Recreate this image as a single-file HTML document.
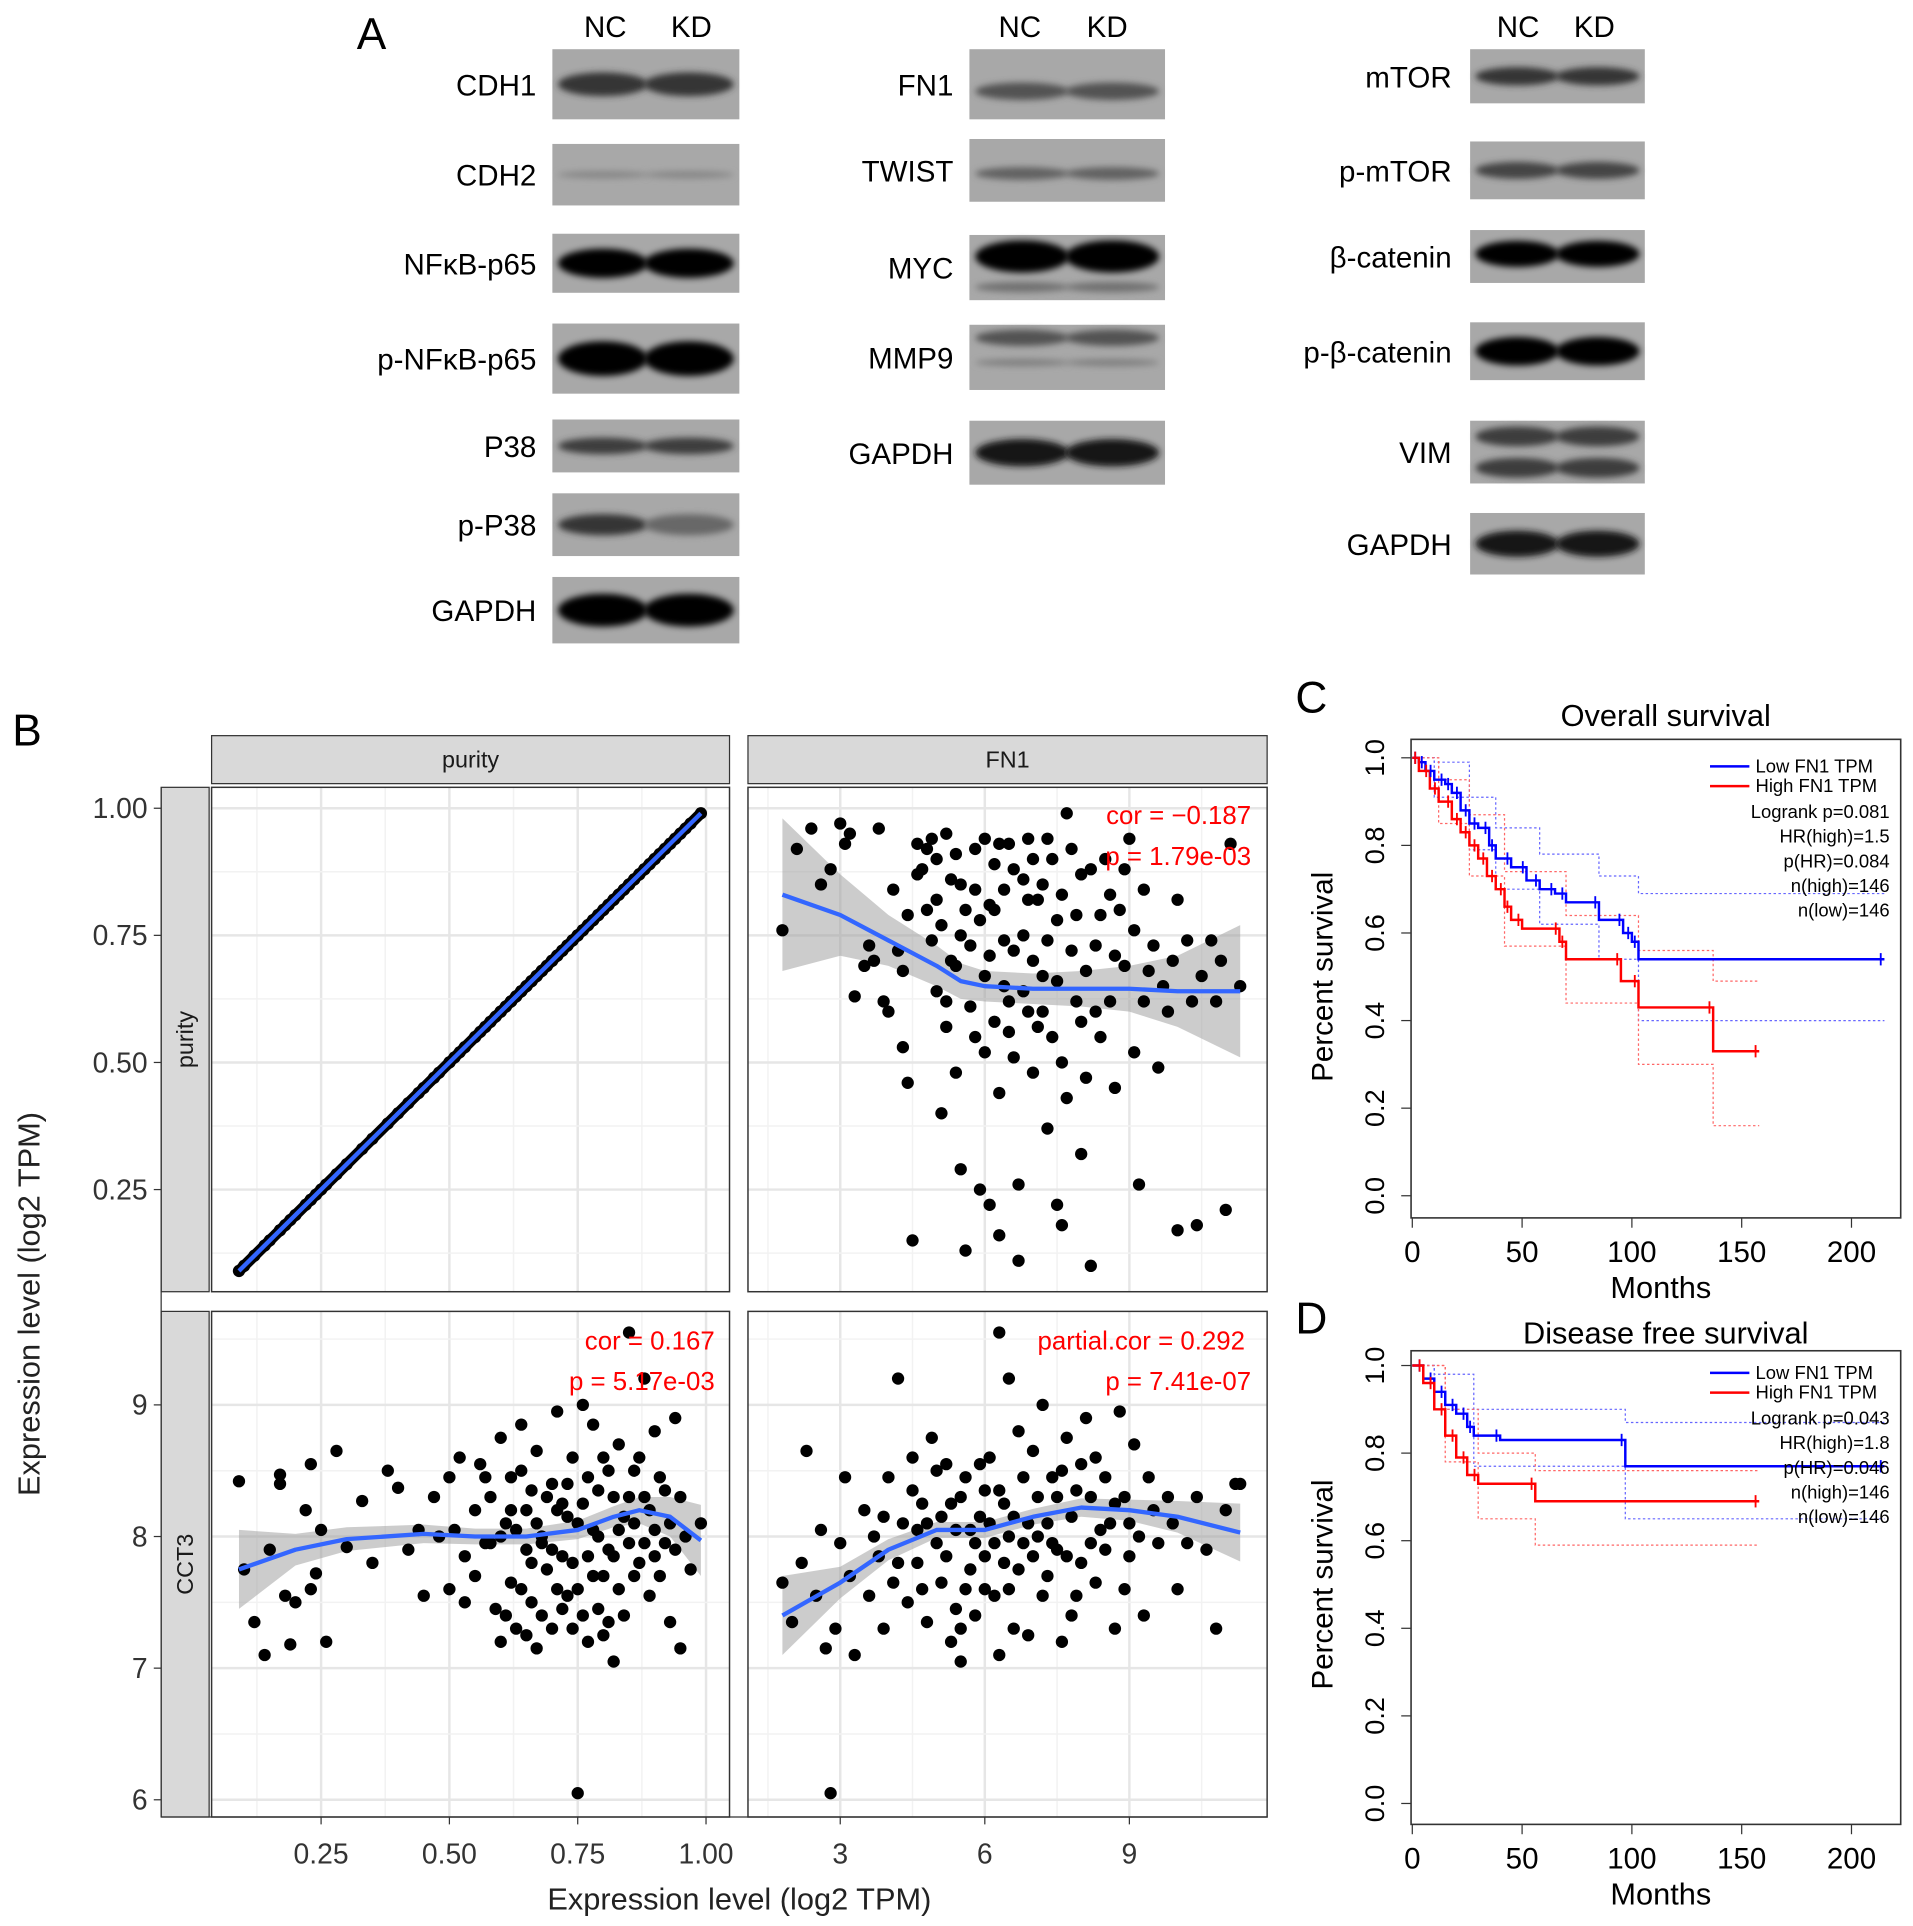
<!DOCTYPE html>
<html><head><meta charset="utf-8"><style>
html,body{margin:0;padding:0;background:#fff;}
svg{display:block;font-family:"Liberation Sans",Arial,sans-serif;}
</style></head><body>
<svg id="fig" width="1913" height="1926" viewBox="0 0 1555 1565.6" preserveAspectRatio="none" xmlns="http://www.w3.org/2000/svg">
<defs>
<filter id="blur" x="-20%" y="-100%" width="140%" height="300%"><feGaussianBlur stdDeviation="2.5"/></filter>
</defs>
<g id="panelA"></g>
<g id="panelB"></g>
<g id="panelC"></g>
<g id="panelD"></g>
</svg>
<script>
// ---------- Panel B data ----------
const fn1Purity = [[1.8,.76],[2.1,.92],[2.4,.96],[2.6,.85],[2.8,.88],[3.0,.97],[3.1,.93],[3.2,.95],[3.5,.69],[3.6,.73],[3.8,.96],[3.9,.62],[4.0,.60],[4.1,.84],[4.2,.72],[4.3,.53],[4.4,.46],[4.5,.15],[4.6,.93],[4.7,.88],[4.8,.92],[4.9,.94],[5.0,.82],[5.0,.64],[5.1,.40],[5.2,.57],[5.2,.95],[5.3,.70],[5.4,.48],[5.5,.29],[5.5,.85],[5.6,.13],[5.7,.61],[5.8,.92],[5.9,.25],[5.9,.78],[6.0,.67],[6.0,.52],[6.1,.22],[6.2,.58],[6.2,.89],[6.3,.44],[6.3,.16],[6.4,.84],[6.5,.93],[6.5,.62],[6.6,.51],[6.7,.26],[6.7,.11],[6.8,.75],[6.9,.60],[7.0,.90],[7.0,.48],[7.1,.82],[7.2,.67],[7.3,.37],[7.3,.94],[7.4,.55],[7.5,.22],[7.5,.78],[7.6,.18],[7.7,.43],[7.7,.99],[7.8,.72],[7.9,.62],[8.0,.32],[8.0,.87],[8.1,.47],[8.2,.10],[8.3,.73],[8.4,.55],[8.5,.90],[8.6,.62],[8.7,.45],[8.8,.80],[8.9,.69],[9.0,.94],[9.1,.52],[9.2,.26],[9.3,.62],[9.5,.73],[9.6,.49],[9.8,.60],[10.0,.82],[10.0,.17],[10.2,.74],[10.4,.18],[10.5,.67],[10.7,.74],[11.0,.21],[11.1,.93],[11.3,.65],[4.4,.79],[5.4,.69],[6.8,.86],[3.3,.63],[5.8,.55],[6.4,.74],[7.1,.57],[8.6,.83],[4.9,.74],[9.4,.68],[10.8,.62],
 [4.6,.87],[4.8,.80],[5.0,.90],[5.1,.77],[5.3,.86],[5.4,.91],[5.6,.80],[5.7,.73],[5.8,.84],[6.0,.94],[6.1,.71],[6.1,.81],[6.3,.93],[6.4,.65],[6.6,.88],[6.6,.72],[6.8,.64],[6.9,.94],[7.0,.70],[7.2,.85],[7.2,.60],[7.4,.90],[7.5,.66],[7.6,.83],[7.8,.92],[7.9,.79],[8.1,.68],[8.2,.88],[8.3,.60],[8.4,.79],[8.7,.71],[8.9,.88],[9.1,.76],[9.3,.84],[9.7,.65],[10.3,.62],[5.2,.62],[5.5,.75],[6.2,.80],[6.9,.82],[7.3,.74],[8.0,.58],[4.3,.68],[3.7,.70],[9.9,.70],[10.9,.70],[6.5,.56],[7.6,.50]];
const purityCct3 = [[.09,8.42],[.10,7.75],[.12,7.35],[.14,7.10],[.15,7.90],[.17,8.47],[.17,8.40],[.18,7.55],[.19,7.18],[.20,7.50],[.22,8.20],[.23,8.55],[.23,7.60],[.24,7.72],[.25,8.05],[.26,7.20],[.28,8.65],[.30,7.92],[.33,8.27],[.35,7.80],[.38,8.50],[.40,8.37],[.42,7.90],[.44,8.05],[.45,7.55],[.47,8.30],[.48,8.00],[.50,8.45],[.50,7.60],[.52,8.60],[.53,7.85],[.55,7.70],[.56,8.55],[.57,7.95],[.58,8.30],[.59,7.45],[.60,8.75],[.60,7.20],[.61,8.10],[.62,7.65],[.62,8.45],[.63,7.30],[.64,8.85],[.65,7.90],[.65,8.20],[.66,7.50],[.67,8.65],[.67,7.15],[.68,8.00],[.69,7.75],[.70,8.40],[.70,7.30],[.71,8.95],[.72,7.85],[.72,8.25],[.73,7.55],[.74,8.60],[.75,6.05],[.75,8.10],[.76,9.00],[.76,7.40],[.77,8.45],[.78,7.70],[.78,8.85],[.79,8.00],[.80,7.25],[.80,8.60],[.81,7.90],[.82,7.05],[.82,8.30],[.83,8.70],[.83,7.60],[.84,8.15],[.85,9.55],[.85,7.95],[.86,8.50],[.87,7.80],[.88,9.20],[.88,8.30],[.89,7.55],[.90,8.80],[.90,8.05],[.91,7.70],[.92,8.35],[.93,7.35],[.94,8.90],[.94,7.90],[.95,7.15],[.96,8.00],[.97,7.75],[.99,8.10],[.63,8.05],[.68,7.95],[.73,8.15],[.58,7.95],[.66,8.35],[.79,7.45],[.86,8.10],[.71,7.60],
 [.60,8.00],[.61,7.40],[.62,8.20],[.64,7.60],[.64,8.50],[.66,7.80],[.67,8.10],[.68,7.40],[.69,8.30],[.70,7.90],[.71,8.20],[.72,7.45],[.73,8.40],[.74,7.80],[.75,7.60],[.76,8.25],[.77,7.85],[.78,8.05],[.79,8.35],[.80,7.70],[.81,8.50],[.82,7.85],[.83,8.05],[.84,7.40],[.85,8.30],[.86,7.70],[.87,8.60],[.88,7.95],[.89,8.20],[.90,7.85],[.91,8.45],[.92,7.95],[.93,8.10],[.95,8.30],[.57,8.45],[.55,8.20],[.53,7.50],[.51,8.05],[.74,7.30],[.77,7.20],[.65,7.25],[.81,7.35]];
const fn1Cct3 = [[1.8,7.65],[2.0,7.35],[2.2,7.80],[2.3,8.65],[2.5,7.55],[2.6,8.05],[2.7,7.15],[2.8,6.05],[2.9,7.30],[3.0,7.95],[3.1,8.45],[3.2,7.70],[3.3,7.10],[3.5,8.20],[3.6,7.55],[3.7,8.00],[3.8,7.85],[3.9,7.30],[4.0,8.45],[4.1,7.65],[4.2,9.20],[4.3,8.10],[4.4,7.50],[4.5,8.60],[4.6,7.80],[4.7,8.25],[4.8,7.35],[4.9,8.75],[5.0,7.95],[5.1,7.65],[5.2,8.55],[5.3,7.20],[5.4,8.05],[5.5,7.05],[5.5,8.30],[5.6,7.60],[5.7,8.05],[5.8,7.40],[5.9,8.55],[6.0,7.85],[6.1,8.10],[6.2,7.55],[6.3,9.55],[6.3,8.35],[6.4,7.80],[6.5,9.20],[6.5,8.00],[6.6,7.30],[6.7,8.80],[6.8,7.95],[6.9,7.25],[7.0,8.65],[7.1,8.00],[7.2,9.00],[7.3,7.70],[7.4,8.45],[7.5,7.90],[7.6,7.20],[7.7,8.75],[7.8,8.15],[7.9,7.55],[8.0,8.55],[8.1,8.90],[8.2,7.95],[8.3,7.65],[8.5,8.45],[8.6,8.10],[8.7,7.30],[8.8,8.95],[8.9,8.30],[9.0,7.85],[9.1,8.70],[9.2,8.00],[9.3,7.40],[9.5,8.20],[9.6,7.95],[9.8,8.30],[10.0,7.60],[10.2,7.95],[10.4,8.30],[10.6,7.90],[10.8,7.30],[11.0,8.20],[11.2,8.40],[11.3,8.40],[5.1,8.15],[6.0,8.35],[6.9,8.10],[7.5,8.30],[8.4,8.05],[4.6,8.05],[5.8,7.95],
 [4.5,8.35],[4.7,7.60],[4.8,8.10],[5.0,8.50],[5.2,7.85],[5.3,8.25],[5.4,7.45],[5.6,8.45],[5.7,7.75],[5.9,8.15],[6.0,7.60],[6.1,8.60],[6.2,7.95],[6.4,8.25],[6.5,7.60],[6.6,8.15],[6.7,7.75],[6.8,8.45],[7.0,7.85],[7.1,8.30],[7.2,7.55],[7.3,8.10],[7.4,7.95],[7.6,8.50],[7.7,7.85],[7.9,8.35],[8.0,7.80],[8.2,8.30],[8.3,8.60],[8.5,7.90],[8.7,8.25],[9.0,8.10],[9.4,8.45],[9.9,8.10],[4.2,7.80],[3.9,8.15],[6.3,7.10],[7.8,7.40],[5.5,7.30],[8.9,7.60]];
// loess fits [x, fit, se-halfwidth]
const loessTR = [[1.8,.83,.15],[3,.79,.08],[4,.74,.05],[5,.69,.04],[5.5,.66,.035],[6,.65,.03],[7,.645,.03],[8,.645,.035],[9,.645,.045],[10,.64,.07],[11.3,.64,.13]];
const loessBL = [[.09,7.75,.3],[.2,7.9,.12],[.3,7.98,.09],[.45,8.02,.07],[.55,8.0,.06],[.65,8.0,.06],[.75,8.05,.07],[.82,8.15,.08],[.87,8.2,.1],[.93,8.15,.15],[.99,7.97,.27]];
const loessBR = [[1.8,7.4,.3],[3,7.65,.12],[4,7.9,.08],[5,8.05,.06],[6,8.05,.06],[7,8.15,.06],[8,8.22,.07],[9,8.2,.08],[10,8.15,.12],[11.3,8.03,.22]];
const purityTicks = [0.25,0.50,0.75,1.00];
const purityTickLabels = ["0.25","0.50","0.75","1.00"];
const fn1Ticks = [3,6,9];
const cct3Ticks = [6,7,8,9];
// ---------- Survival data [months, survival] ----------
const osLow = [[0,1],[3,.99],[6,.97],[10,.95],[15,.94],[18,.92],[22,.88],[26,.85],[30,.84],[35,.80],[38,.77],[45,.75],[52,.72],[58,.70],[65,.69],[70,.67],[85,.63],[96,.60],[100,.58],[103,.54],[215,.54]];
const osHigh = [[0,1],[3,.97],[8,.93],[12,.90],[18,.86],[22,.83],[26,.80],[30,.77],[34,.73],[38,.70],[42,.66],[45,.63],[50,.61],[67,.58],[70,.54],[95,.49],[103,.43],[137,.33],[158,.33]];
const dfsLow = [[0,1],[5,.97],[10,.94],[15,.91],[20,.89],[25,.86],[28,.84],[40,.83],[97,.77],[215,.77]];
const dfsHigh = [[0,1],[5,.96],[10,.90],[15,.84],[20,.79],[25,.75],[30,.73],[56,.69],[158,.69]];
const osLowCI = [[0,1,1],[10,.91,.99],[26,.79,.91],[38,.70,.84],[58,.62,.78],[85,.54,.73],[103,.40,.69],[215,.40,.69]];
const osHighCI = [[0,1,1],[12,.85,.95],[26,.73,.87],[42,.57,.74],[70,.44,.64],[103,.30,.56],[137,.16,.49],[158,.16,.49]];
const dfsLowCI = [[0,1,1],[10,.90,.98],[28,.77,.90],[97,.65,.87],[215,.65,.87]];
const dfsHighCI = [[0,1,1],[15,.78,.90],[30,.65,.80],[56,.59,.76],[158,.59,.76]];
const survTicks = [0,0.2,0.4,0.6,0.8,1.0];
const survTickLabels = ["0.0","0.2","0.4","0.6","0.8","1.0"];
const monthTicks = [0,50,100,150,200];

const NS="http://www.w3.org/2000/svg";
function mk(parent,tag,attrs,text){const e=document.createElementNS(NS,tag);for(const k in attrs)e.setAttribute(k,attrs[k]);if(text!==undefined)e.textContent=text;parent.appendChild(e);return e;}

// ---------- Panel A ----------
const A=document.getElementById('panelA');
let t=mk(A,'text',{x:290,y:40,'font-size':36});t.textContent='A';


const blotCols=[
 {x0:449,x1:601,lx:436,nc:492,kd:562,rows:[['CDH1',40,97,[[.5,.75]]],['CDH2',117,167,[[.5,.2]]],['NFκB-p65',190,238,[[.5,1.3]]],['p-NFκB-p65',263,320,[[.5,1.35]]],['P38',341,384,[[.5,.7]]],['p-P38',401,452,[[.5,.75,.55]]],['GAPDH',469,523,[[.5,1.2]]]]},
 {x0:788,x1:947,lx:775,nc:829,kd:900,rows:[['FN1',40,97,[[.6,.55]]],['TWIST',113,164,[[.55,.45]]],['MYC',191,244,[[.33,1.2],[.8,.35]]],['MMP9',264,317,[[.2,.55],[.58,.25]]],['GAPDH',342,394,[[.5,.95]]]]},
 {x0:1195,x1:1337,lx:1180,nc:1234,kd:1296,rows:[['mTOR',40,84,[[.5,.75]]],['p-mTOR',115,162,[[.5,.65]]],['β-catenin',187,230,[[.45,1.2]]],['p-β-catenin',262,309,[[.5,1.2]]],['VIM',342,393,[[.25,.7],[.75,.7]]],['GAPDH',417,467,[[.5,.95]]]]}
];
blotCols.forEach((c,ci)=>{
 let h=mk(A,'text',{x:c.nc,y:30,'font-size':24,'text-anchor':'middle'},'NC');
 
 
 h=mk(A,'text',{x:c.kd,y:30,'font-size':24,'text-anchor':'middle'},'KD');
 
 
 c.rows.forEach(r=>{
  const [name,y0,y1,bands]=r;
  const g=mk(A,'g',{});
  
  
  mk(g,'rect',{x:c.x0,y:y0,width:c.x1-c.x0,height:y1-y0,fill:'#a8a8a8'});
  const w=(c.x1-c.x0);
  bands.forEach(b=>{
   const yy=y0+(y1-y0)*b[0], hh=Math.max(6,(y1-y0)*0.45*Math.min(b[1],1.1));
   [0.27,0.73].forEach((fx,li)=>{
    const k=(li==1&&b[2])?b[2]:1;
    const dark=Math.max(0,Math.round(165-150*b[1]*k));
    mk(g,'ellipse',{cx:c.x0+w*fx,cy:yy,rx:w*0.24,ry:hh/2,fill:`rgb(${dark},${dark},${dark})`,filter:'url(#blur)'});
   });
  });
  const l=mk(A,'text',{x:c.lx,y:(y0+y1)/2+9,'font-size':24,'text-anchor':'end','textLength':name.length>8?undefined:undefined},name);
  
  
 });
});

// ---------- Panel B ----------
const B=document.getElementById('panelB');
t=mk(B,'text',{x:10,y:606,'font-size':36},'B');


const colX=[[172,593],[608,1030]], rowY=[[640,1050],[1066,1477]];
const xPur=v=>261+(v-0.25)*417.2;
const xFn=v=>683+(v-3)*39.17;
const yPur=v=>657+(1-v)*413.3;
const yCct=v=>1249-(v-8)*107;
[['purity',0],['FN1',1]].forEach(([s,i])=>{
 const r=mk(B,'rect',{x:colX[i][0],y:598,width:colX[i][1]-colX[i][0],height:39,fill:'#d9d9d9',stroke:'#333','stroke-width':1});
 
 
 mk(B,'text',{x:(colX[i][0]+colX[i][1])/2,y:624,'font-size':19,'text-anchor':'middle',fill:'#1a1a1a'},s);
});
[['purity',0],['CCT3',1]].forEach(([s,i])=>{
 const r=mk(B,'rect',{x:131,y:rowY[i][0],width:39,height:rowY[i][1]-rowY[i][0],fill:'#d9d9d9',stroke:'#333','stroke-width':1});
 
 
 const cy=(rowY[i][0]+rowY[i][1])/2;
 mk(B,'text',{x:157,y:cy,'font-size':19,'text-anchor':'middle',fill:'#1a1a1a',transform:`rotate(-90 157 ${cy})`},s);
});
function panel(ci,ri,xf,yf,xt,yt,name){
 const g=mk(B,'g',{});
 
 
 const [x0,x1]=colX[ci],[y0,y1]=rowY[ri];
 mk(g,'rect',{x:x0,y:y0,width:x1-x0,height:y1-y0,fill:'#fff'});
 for(let i=0;i<xt.length;i++){
  const X=xf(xt[i]); if(X>x0&&X<x1) mk(g,'line',{x1:X,x2:X,y1:y0,y2:y1,stroke:'#e6e6e6','stroke-width':2});
  if(i>0){const m=(xf(xt[i])+xf(xt[i-1]))/2; mk(g,'line',{x1:m,x2:m,y1:y0,y2:y1,stroke:'#f2f2f2','stroke-width':1.2});}
 }
 const mx0=xf(xt[0])-(xf(xt[1])-xf(xt[0]))/2; if(mx0>x0) mk(g,'line',{x1:mx0,x2:mx0,y1:y0,y2:y1,stroke:'#f2f2f2','stroke-width':1.2});
 const mx1=xf(xt[xt.length-1])+(xf(xt[1])-xf(xt[0]))/2; if(mx1<x1) mk(g,'line',{x1:mx1,x2:mx1,y1:y0,y2:y1,stroke:'#f2f2f2','stroke-width':1.2});
 for(let i=0;i<yt.length;i++){
  const Y=yf(yt[i]); if(Y>y0&&Y<y1) mk(g,'line',{x1:x0,x2:x1,y1:Y,y2:Y,stroke:'#e6e6e6','stroke-width':2});
  if(i>0){const m=(yf(yt[i])+yf(yt[i-1]))/2; mk(g,'line',{x1:x0,x2:x1,y1:m,y2:m,stroke:'#f2f2f2','stroke-width':1.2});}
 }
 const my=yf(yt[yt.length-1])-(yf(yt[0])-yf(yt[1]))/2; if(my>y0) mk(g,'line',{x1:x0,x2:x1,y1:my,y2:my,stroke:'#f2f2f2','stroke-width':1.2});
 const my2=yf(yt[0])+(yf(yt[0])-yf(yt[1]))/2; if(my2<y1) mk(g,'line',{x1:x0,x2:x1,y1:my2,y2:my2,stroke:'#f2f2f2','stroke-width':1.2});
 mk(g,'rect',{x:x0,y:y0,width:x1-x0,height:y1-y0,fill:'none',stroke:'#333','stroke-width':1.2});
 return g;
}
const gTL=panel(0,0,xPur,yPur,purityTicks,[.25,.5,.75,1],'panel-purity-vs-purity');
const gTR=panel(1,0,xFn,yPur,fn1Ticks,[.25,.5,.75,1],'panel-fn1-vs-purity');
const gBL=panel(0,1,xPur,yCct,purityTicks,cct3Ticks,'panel-purity-vs-cct3');
const gBR=panel(1,1,xFn,yCct,fn1Ticks,cct3Ticks,'panel-fn1-vs-cct3');
function band(g,fit,xf,yf,name){
 let d='M';fit.forEach((p,i)=>{d+=(i?'L':'')+xf(p[0])+','+yf(p[1]+p[2]);});
 for(let i=fit.length-1;i>=0;i--){d+='L'+xf(fit[i][0])+','+yf(fit[i][1]-fit[i][2]);}
 const b=mk(g,'path',{d:d+'Z',fill:'#999','fill-opacity':0.5});
 
 
}
function curve(g,fit,xf,yf,name){
 const d='M'+fit.map(p=>xf(p[0])+','+yf(p[1])).join('L');
 const c=mk(g,'path',{d:d,fill:'none',stroke:'#3366ff','stroke-width':3.5,'stroke-linejoin':'round'});
 
 
}
function pts(g,data,xf,yf,name){
 data.forEach(p=>{
  const c=mk(g,'circle',{cx:xf(p[0]),cy:yf(p[1]),r:5,fill:'#000'});
  
  
 });
}
purityCct3.forEach(p=>{
 const c=mk(gTL,'circle',{cx:xPur(p[0]),cy:yPur(p[0]),r:5,fill:'#000'});
 
 
});
{const mn=Math.min(...purityCct3.map(p=>p[0])),mxv=Math.max(...purityCct3.map(p=>p[0]));
 mk(gTL,'line',{x1:xPur(mn),y1:yPur(mn),x2:xPur(mxv),y2:yPur(mxv),stroke:'#000','stroke-width':9,'stroke-linecap':'round'});
 const l=mk(gTL,'line',{x1:xPur(mn),y1:yPur(mn),x2:xPur(mxv),y2:yPur(mxv),stroke:'#3366ff','stroke-width':3.5});
 
 }
band(gTR,loessTR,xFn,yPur,'fn1-purity');pts(gTR,fn1Purity,xFn,yPur,'fn1-purity');curve(gTR,loessTR,xFn,yPur,'fn1-purity');
band(gBL,loessBL,xPur,yCct,'purity-cct3');pts(gBL,purityCct3,xPur,yCct,'purity-cct3');curve(gBL,loessBL,xPur,yCct,'purity-cct3');
band(gBR,loessBR,xFn,yCct,'fn1-cct3');pts(gBR,fn1Cct3,xFn,yCct,'fn1-cct3');curve(gBR,loessBR,xFn,yCct,'fn1-cct3');
[[1017,670,'cor = −0.187'],[1017,703,'p = 1.79e-03'],[581,1097,'cor = 0.167'],[581,1130,'p = 5.17e-03'],[1012,1097,'partial.cor = 0.292'],[1017,1130,'p = 7.41e-07']].forEach(a=>{
 const e=mk(B,'text',{x:a[0],y:a[1],'font-size':21,'text-anchor':'end',fill:'#ff0000'},a[2]);
 
 
});
[.25,.5,.75,1].forEach((v,i)=>{const Y=yPur(v);mk(B,'line',{x1:125,x2:131,y1:Y,y2:Y,stroke:'#333'});
 const e=mk(B,'text',{x:120,y:Y+8,'font-size':23,'text-anchor':'end',fill:'#333'},['0.25','0.50','0.75','1.00'][i]);
 
 });
cct3Ticks.forEach(v=>{const Y=yCct(v);mk(B,'line',{x1:125,x2:131,y1:Y,y2:Y,stroke:'#333'});
 const e=mk(B,'text',{x:120,y:Y+8,'font-size':23,'text-anchor':'end',fill:'#333'},String(v));
 
 });
mk(B,'line',{x1:131,x2:131,y1:640,y2:1477,stroke:'#333'});
mk(B,'line',{x1:131,x2:1030,y1:1477,y2:1477,stroke:'#333'});
purityTicks.forEach((v,i)=>{const X=xPur(v);mk(B,'line',{x1:X,x2:X,y1:1477,y2:1483,stroke:'#333'});
 const e=mk(B,'text',{x:X,y:1515,'font-size':23,'text-anchor':'middle',fill:'#333'},purityTickLabels[i]);
 
 });
fn1Ticks.forEach(v=>{const X=xFn(v);mk(B,'line',{x1:X,x2:X,y1:1477,y2:1483,stroke:'#333'});
 const e=mk(B,'text',{x:X,y:1515,'font-size':23,'text-anchor':'middle',fill:'#333'},String(v));
 
 });
t=mk(B,'text',{x:601,y:1552,'font-size':25,'text-anchor':'middle',fill:'#222'},'Expression level (log2 TPM)');


t=mk(B,'text',{x:32,y:1060,'font-size':25,'text-anchor':'middle',fill:'#222',transform:'rotate(-90 32 1060)'},'Expression level (log2 TPM)');



// ---------- Survival panels ----------
function km(G,cfg){
 const xm=v=>1148+v*1.785;
 const ys=v=>cfg.y0-v*(cfg.y0-cfg.y1);
 let e=mk(G,'text',{x:1053,y:cfg.labY,'font-size':36},cfg.letter);
 
 
 e=mk(G,'text',{x:1354,y:cfg.titleY,'font-size':25,'text-anchor':'middle'},cfg.title);
 
 
 const box=mk(G,'rect',{x:1147,y:cfg.boxT,width:398,height:cfg.boxB-cfg.boxT,fill:'none',stroke:'#333','stroke-width':1.3});
 
 
 survTicks.forEach((v,i)=>{const Y=ys(v);mk(G,'line',{x1:1139,x2:1147,y1:Y,y2:Y,stroke:'#333'});
  const tx=1125;const l=mk(G,'text',{x:tx,y:Y,'font-size':22,'text-anchor':'middle',transform:`rotate(-90 ${tx} ${Y})`},survTickLabels[i]);
  
  });
 monthTicks.forEach(v=>{const X=xm(v);mk(G,'line',{x1:X,x2:X,y1:cfg.boxB,y2:cfg.boxB+8,stroke:'#333'});
  const l=mk(G,'text',{x:X,y:cfg.boxB+36,'font-size':24,'text-anchor':'middle'},String(v));
  
  });
 e=mk(G,'text',{x:1350,y:cfg.boxB+65,'font-size':25,'text-anchor':'middle'},'Months');
 
 
 const cy=(cfg.y0+cfg.y1)/2;
 e=mk(G,'text',{x:1083,y:cy,'font-size':24,'text-anchor':'middle',transform:`rotate(-90 1083 ${cy})`},'Percent survival');
 
 
 function step(data,idx,col,w,dash,name){
  let d='M'+xm(data[0][0])+','+ys(data[0][idx]);
  for(let i=1;i<data.length;i++){d+='H'+xm(data[i][0])+'V'+ys(data[i][idx]);}
  const p=mk(G,'path',{d:d,fill:'none',stroke:col,'stroke-width':w,'stroke-dasharray':dash||'none'});
  
  
 }
 step(cfg.lowCI,1,'#6666ff',1,'2,2','low-ci-lower');step(cfg.lowCI,2,'#6666ff',1,'2,2','low-ci-upper');
 step(cfg.highCI,1,'#ff6666',1,'2,2','high-ci-lower');step(cfg.highCI,2,'#ff6666',1,'2,2','high-ci-upper');
 step(cfg.low,1,'#0000ff',2,null,'low-fn1-curve');
 step(cfg.high,1,'#ff0000',2,null,'high-fn1-curve');
 [[cfg.low,'#0000ff'],[cfg.high,'#ff0000']].forEach(([d,c])=>{for(let i=1;i<d.length;i++){const X=xm(d[i][0])-3,Y=ys(d[i-1][1]);mk(G,'path',{d:`M${X},${Y-5}V${Y+5}`,stroke:c,'stroke-width':1.5});}});
 const lg=mk(G,'g',{});
 
 
 mk(lg,'line',{x1:1390,x2:1422,y1:cfg.lgY,y2:cfg.lgY,stroke:'#0000ff','stroke-width':2});
 mk(lg,'line',{x1:1390,x2:1422,y1:cfg.lgY+16,y2:cfg.lgY+16,stroke:'#ff0000','stroke-width':2});
 mk(lg,'text',{x:1427,y:cfg.lgY+5,'font-size':15},'Low FN1 TPM');
 mk(lg,'text',{x:1427,y:cfg.lgY+21,'font-size':15},'High FN1 TPM');
 cfg.stats.forEach((s,i)=>mk(lg,'text',{x:1536,y:cfg.lgY+42+i*20,'font-size':15,'text-anchor':'end'},s));
}
km(document.getElementById('panelC'),{letter:'C',labY:579,title:'Overall survival',titleY:590,boxT:601,boxB:990,y0:972,y1:616,
 low:osLow,high:osHigh,lowCI:osLowCI,highCI:osHighCI,lgY:623,stats:['Logrank p=0.081','HR(high)=1.5','p(HR)=0.084','n(high)=146','n(low)=146']});
km(document.getElementById('panelD'),{letter:'D',labY:1084,title:'Disease free survival',titleY:1092,boxT:1098,boxB:1483,y0:1466,y1:1110,
 low:dfsLow,high:dfsHigh,lowCI:dfsLowCI,highCI:dfsHighCI,lgY:1116,stats:['Logrank p=0.043','HR(high)=1.8','p(HR)=0.046','n(high)=146','n(low)=146']});
</script>
</body></html>
